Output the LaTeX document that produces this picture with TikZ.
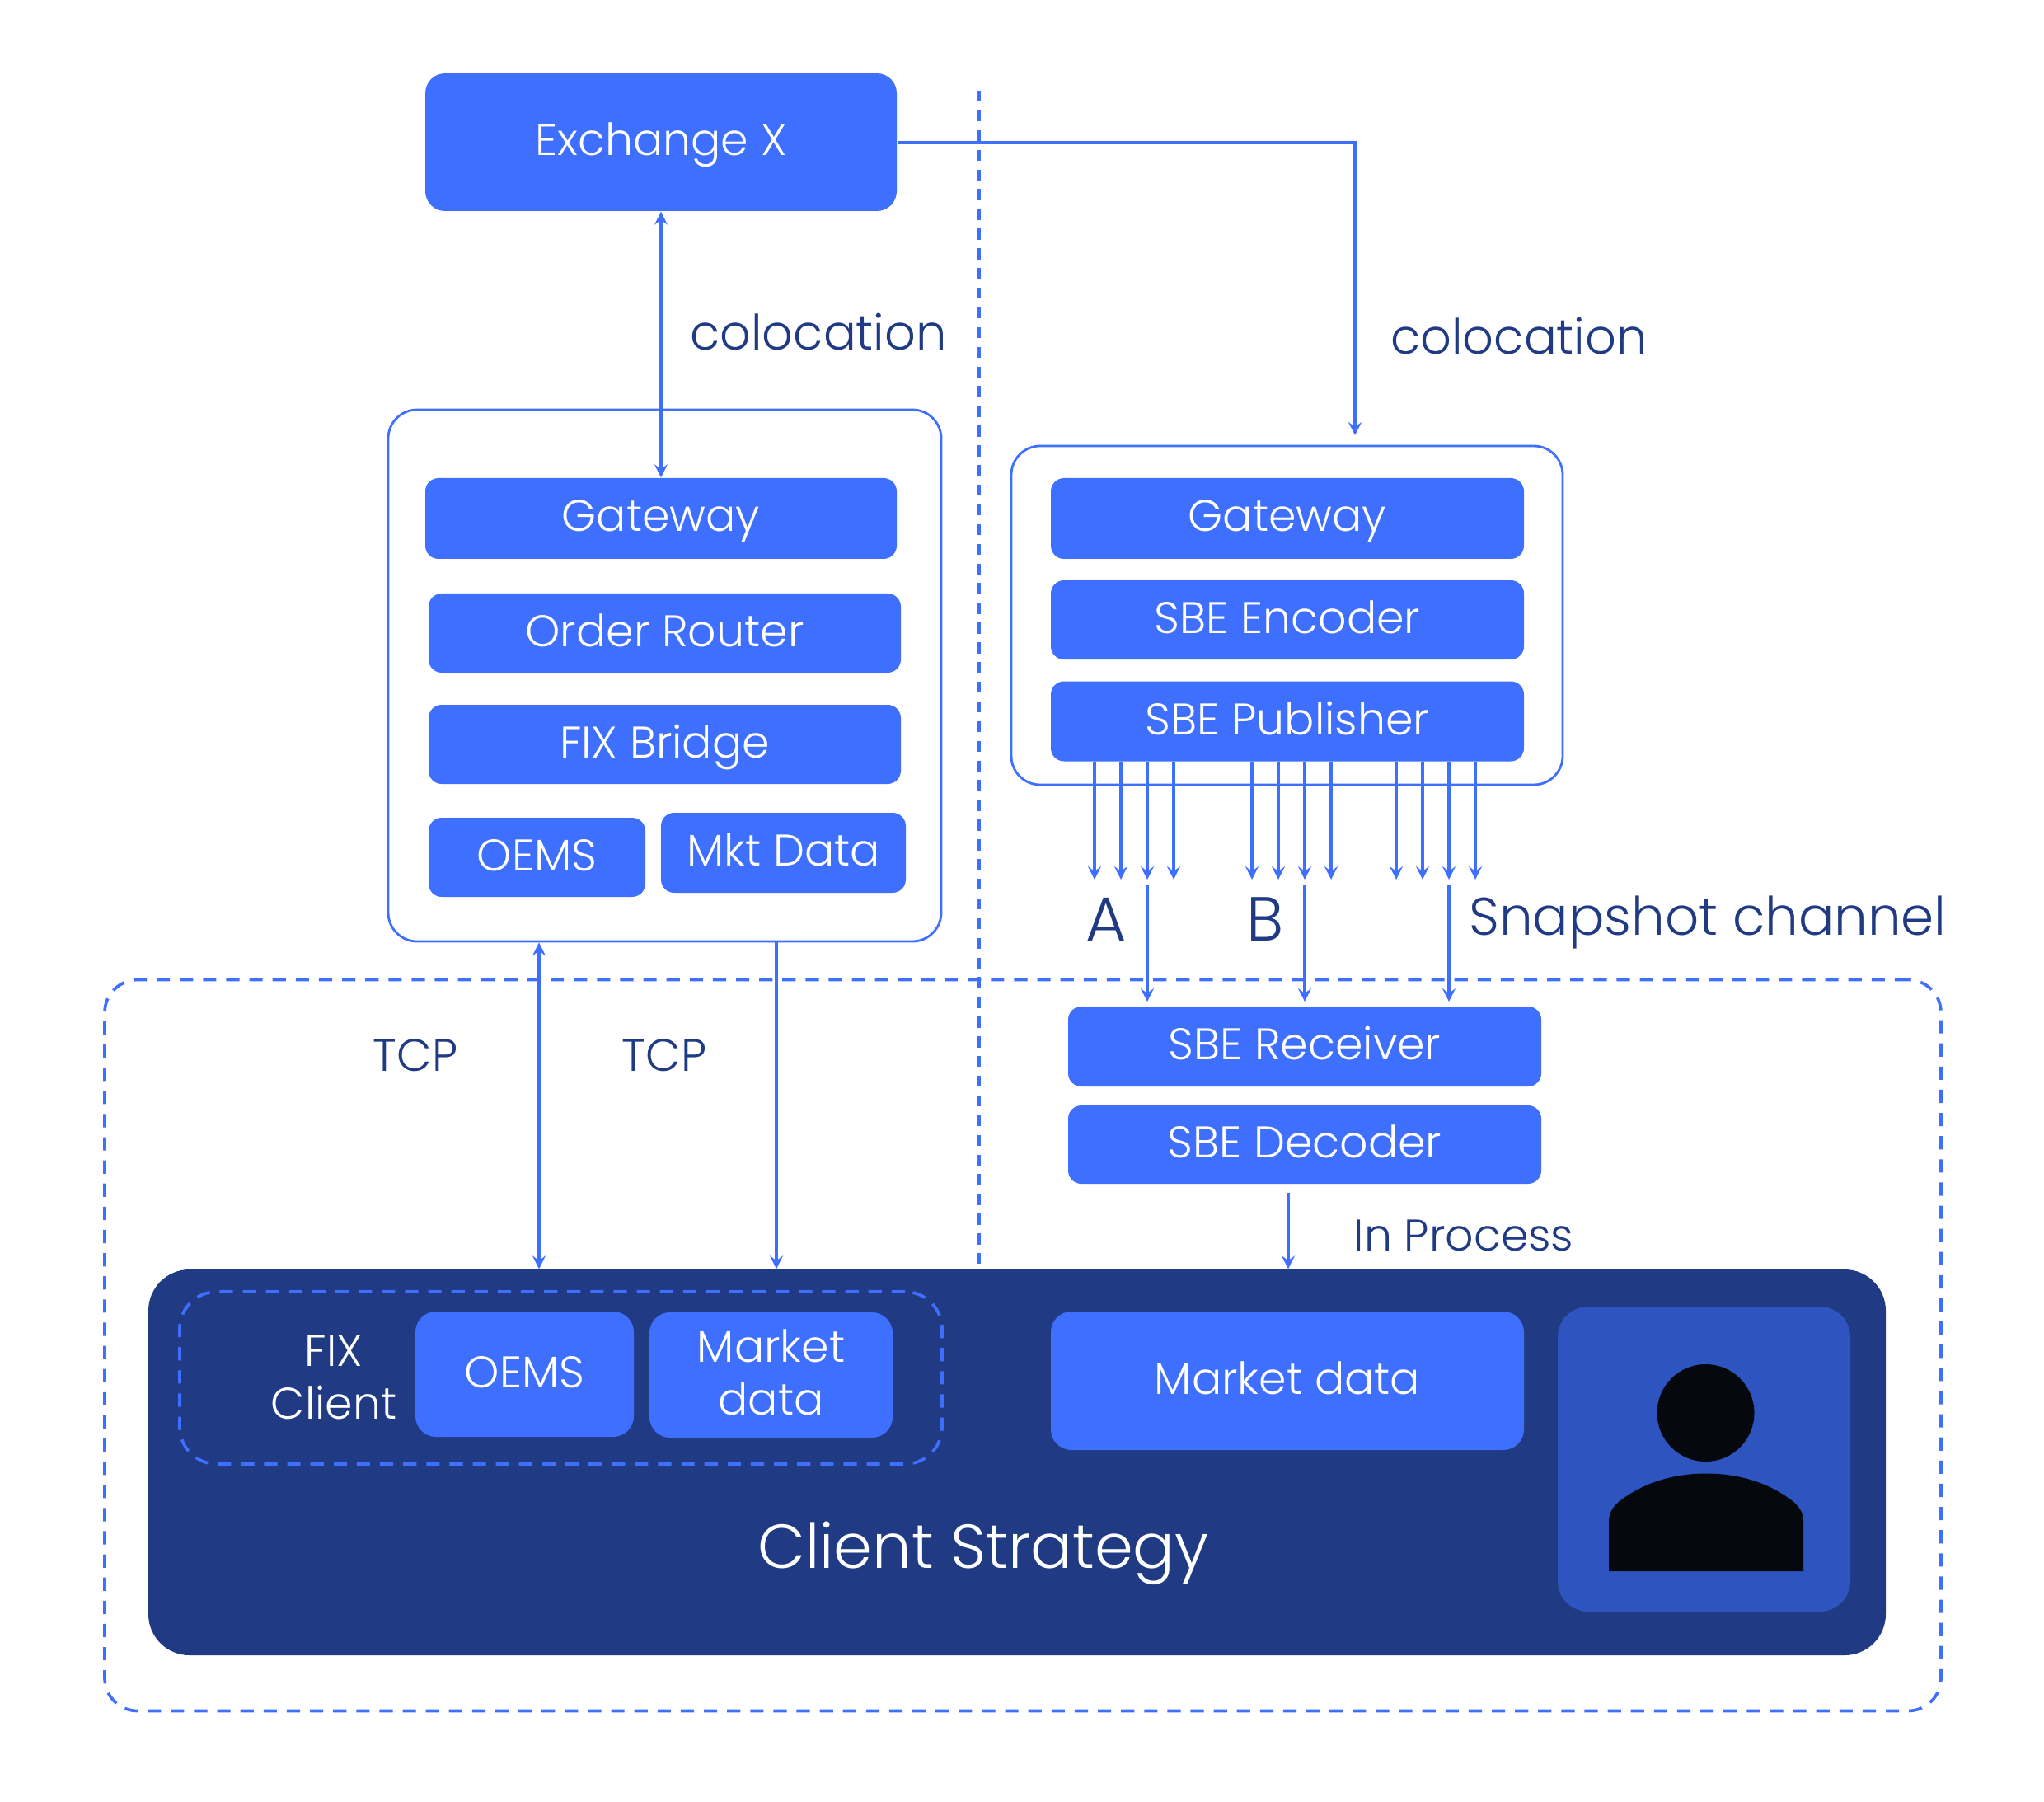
\documentclass[tikz,border=0pt]{standalone}
\usepackage{fontspec}
\setmainfont{Poppins}[UprightFont=* Light]
\usepackage{xcolor}
\usepackage{tikz}
\usetikzlibrary{arrows.meta}
\usetikzlibrary{positioning}
\definecolor{brandblue}{HTML}{3F6FFF}
\definecolor{navyblue}{HTML}{203B84}
\definecolor{panelblue}{HTML}{2E54C0}
\definecolor{inkblack}{HTML}{05090D}
\tikzset{
  box/.style={fill=brandblue, text=white, rounded corners=1.6mm, inner sep=0pt, align=center,
    font=\fontsize{15.3}{18}\selectfont, text height=4.2mm, text depth=1mm},
  holder/.style={draw=brandblue, line width=0.8pt, rounded corners=3.5mm, inner sep=0pt},
  dashbox/.style={draw=brandblue, line width=1.05pt, dash pattern=on 4.6pt off 3.4pt, inner sep=0pt},
  link/.style={draw=brandblue, line width=1.1pt, -{Stealth[length=1.6mm,width=1.6mm,inset=0.6mm]}},
  biglink/.style={link, {Stealth[length=1.6mm,width=1.6mm,inset=0.6mm]}-{Stealth[length=1.6mm,width=1.6mm,inset=0.6mm]}},
  tag/.style={text=navyblue, inner sep=0pt, font=\fontsize{16.8}{19}\selectfont},
}
\begin{document}
\begin{tikzpicture}
  \useasboundingbox (0,0) rectangle (24.8,-21.86);

  % receiving side
  \node[dashbox, rounded corners=4mm, minimum width=22.28cm, minimum height=8.87cm] (outer) at (12.41,-16.32) {};
  \node[fill=navyblue, rounded corners=5mm, inner sep=0pt, minimum width=21.08cm, minimum height=4.68cm] (client) at (12.34,-17.74) {};
  \coordinate (vtop) at (11.88,-1.10);
  \draw[brandblue, line width=1pt, dash pattern=on 3.8pt off 3pt] (vtop) -- (client.north -| vtop);

  % left stack
  \node[holder, minimum width=6.71cm, minimum height=6.45cm] (leftbox) at (8.065,-8.195) {};
  \node[box, rounded corners=2.4mm, minimum width=5.72cm, minimum height=1.67cm] (exch) at (8.02,-1.725) {Exchange X};
  \node[box, minimum width=5.72cm, minimum height=0.98cm] (gwl) at (8.02,-6.29) {Gateway};
  \node[box, minimum width=5.73cm, minimum height=0.96cm] (router) at (8.065,-7.68) {Order Router};
  \node[box, minimum width=5.73cm, minimum height=0.96cm] (bridge) at (8.065,-9.03) {FIX Bridge};
  \node[box, minimum width=2.63cm, minimum height=0.96cm] (oemsl) at (6.515,-10.40) {OEMS};
  \node[box, minimum width=2.97cm, minimum height=0.97cm] (mkt) at (9.505,-10.345) {Mkt Data};

  % right stack
  \node[holder, minimum width=6.69cm, minimum height=4.11cm] (rightbox) at (15.615,-7.465) {};
  \node[box, minimum width=5.74cm, minimum height=0.98cm] (gwr) at (15.62,-6.29) {Gateway};
  \node[box, minimum width=5.74cm, minimum height=0.96cm] (enc) at (15.62,-7.52) {SBE Encoder};
  \node[box, minimum width=5.74cm, minimum height=0.97cm] (pub) at (15.62,-8.75) {SBE Publisher};
  \node[box, minimum width=5.74cm, minimum height=0.97cm] (recv) at (15.83,-12.695) {SBE Receiver};
  \node[box, minimum width=5.74cm, minimum height=0.95cm] (dec) at (15.83,-13.885) {SBE Decoder};

  % client strategy
  \node[dashbox, rounded corners=4.5mm, minimum width=9.25cm, minimum height=2.09cm] (fixbox) at (6.805,-16.715) {};
  \node[inner sep=0pt, text=white, align=center, font=\fontsize{15.3}{18}\selectfont] (fixlab) at (4.05,-16.71) {FIX\\Client};
  \node[box, rounded corners=2.5mm, minimum width=2.65cm, minimum height=1.52cm] (oemsc) at (6.365,-16.67) {OEMS};
  \node[box, rounded corners=2.5mm, minimum width=2.95cm, minimum height=1.52cm, text height=, text depth=] (mktc) at (9.355,-16.68) {\raisebox{0.7mm}{Market}\\\raisebox{0.7mm}{data}};
  \node[box, rounded corners=2.5mm, minimum width=5.74cm, minimum height=1.68cm] (mktr) at (15.62,-16.75) {Market data};
  \node[inner sep=0pt, text=white, font=\fontsize{21.4}{25}\selectfont] (strategy) at (11.93,-18.84) {Client Strategy};
  \node[fill=panelblue, rounded corners=3.7mm, inner sep=0pt, minimum width=3.55cm, minimum height=3.70cm] (panel) at (20.675,-17.70) {};
  \node[fill=inkblack, circle, inner sep=0pt, minimum size=1.18cm] (head) at (20.695,-17.14) {};
  \fill[inkblack] (19.52,-19.06) -- (19.52,-18.46) .. controls (19.52,-18.34) and (19.58,-18.27) .. (19.65,-18.21)
    .. controls (20.0,-17.94) and (20.4,-17.875) .. (20.70,-17.875)
    .. controls (21.0,-17.875) and (21.4,-17.94) .. (21.75,-18.21)
    .. controls (21.82,-18.27) and (21.88,-18.34) .. (21.88,-18.46) -- (21.88,-19.06) -- cycle;

  % connectors
  \draw[biglink] (exch.south) -- (gwl.north);
  \coordinate (corner) at (16.44,-1.73);
  \coordinate (colend) at (16.44,-5.28);
  \draw[link] (exch.east |- corner) -- (corner) -- (colend);
  \coordinate (tcpa) at (6.54,0);
  \coordinate (tcpb) at (9.42,0);
  \draw[biglink] (leftbox.south -| tcpa) -- (client.north -| tcpa);
  \draw[link] (leftbox.south -| tcpb) -- (client.north -| tcpb);
  \foreach \x in {13.28,13.60,13.92,14.24,15.19,15.51,15.83,16.15,16.94,17.26,17.58,17.90}{
    \coordinate (fan) at (\x,-10.67);
    \draw[link] (pub.south -| fan) -- (fan);
  }
  \foreach \x in {13.92,15.83,17.58}{
    \coordinate (drop) at (\x,-10.73);
    \draw[link] (drop) -- (\x,-12.15);
  }
  \coordinate (inproc) at (15.63,-14.47);
  \draw[link, line width=1.4pt] (inproc) -- (client.north -| inproc);

  % labels
  \node[tag] (cola) at (9.93,-4.03) {colocation};
  \node[tag] (colb) at (18.43,-4.08) {colocation};
  \node[tag, font=\fontsize{15.7}{18}\selectfont] (tcpl) at (5.04,-12.80) {TCP};
  \node[tag, font=\fontsize{15.7}{18}\selectfont] (tcpr) at (8.06,-12.80) {TCP};
  \node[tag, font=\fontsize{15.3}{18}\selectfont] (proc) at (17.76,-14.99) {In Process};
  \node[tag, font=\fontsize{21.5}{25}\selectfont] (laba) at (13.42,-11.15) {A};
  \node[tag, font=\fontsize{21.5}{25}\selectfont] (labb) at (15.35,-11.15) {B};
  \node[tag, font=\fontsize{18.3}{22}\selectfont] (snap) at (20.72,-11.19) {Snapshot channel};
\end{tikzpicture}
\end{document}
